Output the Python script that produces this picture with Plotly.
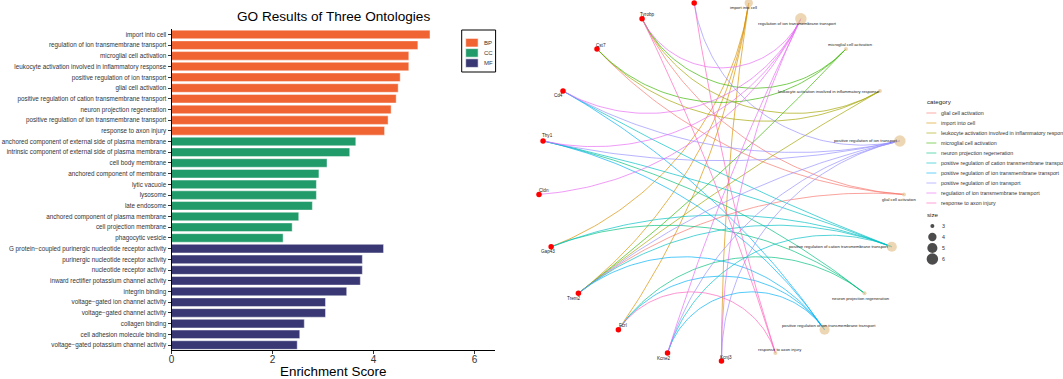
import math
import numpy as np
import plotly.graph_objects as go

W, H = 1063, 379
FONT = "Liberation Sans, Arial, Helvetica, sans-serif"

# ---------------- enrichment results ----------------
bp_terms = [
    "import into cell",
    "regulation of ion transmembrane transport",
    "microglial cell activation",
    "leukocyte activation involved in inflammatory response",
    "positive regulation of ion transport",
    "glial cell activation",
    "positive regulation of cation transmembrane transport",
    "neuron projection regeneration",
    "positive regulation of ion transmembrane transport",
    "response to axon injury",
]
bp_scores = [5.12, 4.88, 4.70, 4.70, 4.53, 4.49, 4.45, 4.35, 4.29, 4.22]

cc_terms = [
    "anchored component of external side of plasma membrane",
    "intrinsic component of external side of plasma membrane",
    "cell body membrane",
    "anchored component of membrane",
    "lytic vacuole",
    "lysosome",
    "late endosome",
    "anchored component of plasma membrane",
    "cell projection membrane",
    "phagocytic vesicle",
]
cc_scores = [3.65, 3.53, 3.08, 2.92, 2.87, 2.87, 2.79, 2.52, 2.39, 2.21]

mf_terms = [
    "G protein\u2212coupled purinergic nucleotide receptor activity",
    "purinergic nucleotide receptor activity",
    "nucleotide receptor activity",
    "inward rectifier potassium channel activity",
    "integrin binding",
    "voltage\u2212gated ion channel activity",
    "voltage\u2212gated channel activity",
    "collagen binding",
    "cell adhesion molecule binding",
    "voltage\u2212gated potassium channel activity",
]
mf_scores = [4.20, 3.78, 3.78, 3.74, 3.47, 3.05, 3.05, 2.63, 2.54, 2.49]

ontologies = ["BP", "CC", "MF"]
ont_colors = {"BP": "#F06434", "CC": "#229B6B", "MF": "#393874"}

# ---------------- gene-concept network ----------------
genes = ["Kcnj3", "Kcne2", "Fcrl", "Trem2", "Gap43", "Cldn", "Thy1",
         "Cd4", "Cst7", "Tyrobp", "P2ry12"]

category_genes = {
    "import into cell": ["Gap43", "Trem2", "Fcrl", "Kcnj3"],
    "regulation of ion transmembrane transport": ["Cd4", "Thy1", "Cldn", "Kcne2", "Kcnj3", "Tyrobp"],
    "microglial cell activation": ["Tyrobp", "Cst7", "Trem2"],
    "leukocyte activation involved in inflammatory response": ["Tyrobp", "Cst7", "Trem2"],
    "positive regulation of ion transport": ["P2ry12", "Cd4", "Thy1", "Trem2", "Kcne2", "Kcnj3"],
    "glial cell activation": ["Cst7", "Tyrobp", "Trem2"],
    "positive regulation of cation transmembrane transport": ["Cd4", "Thy1", "Trem2", "Kcne2", "Gap43"],
    "neuron projection regeneration": ["Thy1", "Gap43", "Fcrl"],
    "positive regulation of ion transmembrane transport": ["Cd4", "Thy1", "Trem2", "Kcne2", "Fcrl"],
    "response to axon injury": ["Tyrobp", "P2ry12", "Fcrl"],
}
network_categories = list(category_genes.keys())

# ggplot default hue palette, assigned in alphabetical order of category
legend_categories = sorted(network_categories)
hue_colors = ["#F8766D", "#D89000", "#A3A500", "#39B600", "#00BF7D",
              "#00BFC4", "#00B0F6", "#9590FF", "#E76BF3", "#FF62BC"]
cat_color = dict(zip(legend_categories, hue_colors))

size_breaks = [3, 4, 5, 6]

# label offsets (px) relative to each node
label_offset = {
    "Kcnj3": (5, -4), "Kcne2": (-4, 5), "Fcrl": (5, -4), "Trem2": (-4, 5),
    "Gap43": (-3, 4.5), "Cldn": (5, -4), "Thy1": (4.5, -5), "Cd4": (-4.5, 4),
    "Cst7": (4.5, -4), "Tyrobp": (5, -4), "P2ry12": (5, -4),
    "import into cell": (-5, 4),
    "regulation of ion transmembrane transport": (-3, 4.5),
    "microglial cell activation": (5, -4.5),
    "leukocyte activation involved in inflammatory response": (-51, 0),
    "positive regulation of ion transport": (-34, 0),
    "glial cell activation": (-4.5, 5),
    "positive regulation of cation transmembrane transport": (-53, 0),
    "neuron projection regeneration": (-4, 5),
    "positive regulation of ion transmembrane transport": (4.5, -4),
    "response to axon injury": (4.5, -4),
}


def px(x):
    return x / W


def py(y):
    return 1 - y / H


fig = go.Figure()

# ---------------- bar chart ----------------
all_terms = bp_terms + cc_terms + mf_terms
for ont, terms, scores in zip(ontologies, [bp_terms, cc_terms, mf_terms],
                              [bp_scores, cc_scores, mf_scores]):
    fig.add_trace(go.Bar(
        x=scores, y=terms, orientation="h", name=ont,
        marker=dict(color=ont_colors[ont],
                    line=dict(color="rgba(255,255,255,0.55)", width=0.8)),
        showlegend=False, xaxis="x", yaxis="y",
    ))

# ---------------- network (circular layout) ----------------
nodes = network_categories + genes
n_nodes = len(nodes)
CX, CY, RX, RY = 720.5, 181.0, 183.5, 180.0
node_angle = {name: math.pi / 2 - 2 * math.pi * (i + 0.5) / n_nodes
              for i, name in enumerate(nodes)}


def to_px(u, v):
    return CX + RX * np.asarray(u), CY - RY * np.asarray(v)


def arc(a1, a2, n=70):
    """Circle arc between two points of the layout circle, bending inward."""
    p1 = np.array([math.cos(a1), math.sin(a1)])
    p2 = np.array([math.cos(a2), math.sin(a2)])
    d = (a2 - a1 + math.pi) % (2 * math.pi) - math.pi
    half = abs(d) / 2
    t = np.linspace(0, 1, n)
    if math.cos(half) < 1e-3:
        pts = p1[None, :] + (p2 - p1)[None, :] * t[:, None]
        return pts[:, 0], pts[:, 1]
    mid = a1 + d / 2
    c = np.array([math.cos(mid), math.sin(mid)]) / math.cos(half)
    r = math.tan(half)
    b1 = math.atan2(p1[1] - c[1], p1[0] - c[0])
    b2 = math.atan2(p2[1] - c[1], p2[0] - c[0])
    db = (b2 - b1 + math.pi) % (2 * math.pi) - math.pi
    b = b1 + db * t
    return c[0] + r * np.cos(b), c[1] + r * np.sin(b)


def hex_rgba(h, a):
    h = h.lstrip("#")
    return "rgba(%d,%d,%d,%.2f)" % (int(h[0:2], 16), int(h[2:4], 16), int(h[4:6], 16), a)


for cat in legend_categories:
    xs, ys = [], []
    for g in category_genes[cat]:
        u, v = arc(node_angle[cat], node_angle[g])
        x, y = to_px(u, v)
        xs += list(x) + [None]
        ys += list(y) + [None]
    fig.add_trace(go.Scatter(
        x=xs, y=ys, mode="lines", name=cat,
        line=dict(color=hex_rgba(cat_color[cat], 0.85), width=0.8),
        showlegend=False, hoverinfo="skip", xaxis="x2", yaxis="y2",
    ))


def size_px(deg):
    lo, hi = min(size_breaks), max(size_breaks)
    return 4 + 7.5 * math.sqrt((deg - lo) / (hi - lo))


cat_deg = [len(category_genes[c]) for c in network_categories]
cx_, cy_ = to_px([math.cos(node_angle[c]) for c in network_categories],
                 [math.sin(node_angle[c]) for c in network_categories])
fig.add_trace(go.Scatter(
    x=cx_, y=cy_, mode="markers",
    marker=dict(color="#E5C494", size=[size_px(d) for d in cat_deg], line=dict(width=0)),
    showlegend=False, hoverinfo="text", text=network_categories,
    xaxis="x2", yaxis="y2", cliponaxis=False,
))
gx_, gy_ = to_px([math.cos(node_angle[g]) for g in genes],
                 [math.sin(node_angle[g]) for g in genes])
fig.add_trace(go.Scatter(
    x=gx_, y=gy_, mode="markers",
    marker=dict(color="#FF0000", size=5.5, line=dict(width=0)),
    showlegend=False, hoverinfo="text", text=genes,
    xaxis="x2", yaxis="y2", cliponaxis=False,
))

annotations = []
for name in nodes:
    x, y = to_px(math.cos(node_angle[name]), math.sin(node_angle[name]))
    dx, dy = label_offset[name]
    annotations.append(dict(
        x=float(x) + dx, y=float(y) + dy, xref="x2", yref="y2", text=name,
        showarrow=False, xanchor="center", yanchor="middle",
        font=dict(family=FONT, size=4.2 if name in network_categories else 4.6, color="#222222"),
    ))

# size key
key_y = [226, 237, 248, 259]
fig.add_trace(go.Scatter(
    x=[932] * len(size_breaks), y=key_y, mode="markers",
    marker=dict(color="black", size=[size_px(s) for s in size_breaks], line=dict(width=0)),
    showlegend=False, hoverinfo="skip", xaxis="x2", yaxis="y2", cliponaxis=False,
))
for s, yk in zip(size_breaks, key_y):
    annotations.append(dict(x=940, y=yk, xref="x2", yref="y2", text=str(s), showarrow=False,
                            xanchor="left", yanchor="middle",
                            font=dict(family=FONT, size=5.3, color="#333333")))
annotations.append(dict(x=px(924.5), y=py(214), xref="paper", yref="paper", text="size",
                        showarrow=False, xanchor="left", yanchor="middle",
                        font=dict(family=FONT, size=6.2, color="#222222")))

# category key
shapes = []
annotations.append(dict(x=px(924.5), y=py(101), xref="paper", yref="paper", text="category",
                        showarrow=False, xanchor="left", yanchor="middle",
                        font=dict(family=FONT, size=6.2, color="#222222")))
for j, cat in enumerate(legend_categories):
    yk = 113 + 10 * j
    shapes.append(dict(type="line", xref="paper", yref="paper",
                       x0=px(926), x1=px(936), y0=py(yk), y1=py(yk),
                       line=dict(color=hex_rgba(cat_color[cat], 0.6), width=1)))
    annotations.append(dict(x=px(939), y=py(yk), xref="paper", yref="paper", text=cat,
                            showarrow=False, xanchor="left", yanchor="middle",
                            font=dict(family=FONT, size=5.3, color="#333333")))

# ontology key for the bar chart
shapes.append(dict(type="rect", xref="paper", yref="paper",
                   x0=px(460), x1=px(494), y0=py(72), y1=py(30),
                   line=dict(color="black", width=1), fillcolor="white"))
for j, ont in enumerate(ontologies):
    yc = 42.7 + 10.2 * j
    shapes.append(dict(type="rect", xref="paper", yref="paper",
                       x0=px(464), x1=px(476.5), y0=py(yc + 4.3), y1=py(yc - 4.3),
                       line=dict(color="white", width=0.6), fillcolor=ont_colors[ont]))
    annotations.append(dict(x=px(480), y=py(yc), xref="paper", yref="paper", text=ont,
                            showarrow=False, xanchor="left", yanchor="middle",
                            font=dict(family=FONT, size=6, color="#333333")))

# titles
annotations.append(dict(x=px(331), y=py(17), xref="paper", yref="paper",
                        text="GO Results of Three Ontologies", showarrow=False,
                        xanchor="center", yanchor="middle",
                        font=dict(family=FONT, size=13.6, color="black")))
annotations.append(dict(x=px(331), y=py(371.5), xref="paper", yref="paper",
                        text="Enrichment Score", showarrow=False,
                        xanchor="center", yanchor="middle",
                        font=dict(family=FONT, size=13.4, color="black")))

fig.update_layout(
    width=W, height=H, margin=dict(l=0, r=0, t=0, b=0),
    paper_bgcolor="white", plot_bgcolor="white",
    barmode="overlay", bargap=0.2,
    font=dict(family=FONT),
    xaxis=dict(domain=[px(169), px(493)], range=[0, 6.4], tickvals=[0, 2, 4, 6],
               showgrid=False, zeroline=False, showline=True, linecolor="black", linewidth=1,
               ticks="outside", ticklen=3, tickwidth=0.8, tickcolor="#333333",
               ticklabelstandoff=-3,
               tickfont=dict(family=FONT, size=10, color="#333333"), anchor="y"),
    yaxis=dict(domain=[py(350.4), py(29.1)], categoryorder="array", categoryarray=all_terms,
               range=[len(all_terms) - 0.5, -0.5], showgrid=False, zeroline=False,
               showline=True, linecolor="black", linewidth=1,
               ticks="outside", ticklen=3, tickwidth=0.8, tickcolor="#333333",
               tickfont=dict(family=FONT, size=6.3, color="#333333"), anchor="x"),
    xaxis2=dict(domain=[px(500), 1], range=[500, 1063], visible=False, anchor="y2"),
    yaxis2=dict(domain=[0, 1], range=[379, 0], visible=False, anchor="x2"),
    shapes=shapes, annotations=annotations,
)

fig.write_html("out.html")
